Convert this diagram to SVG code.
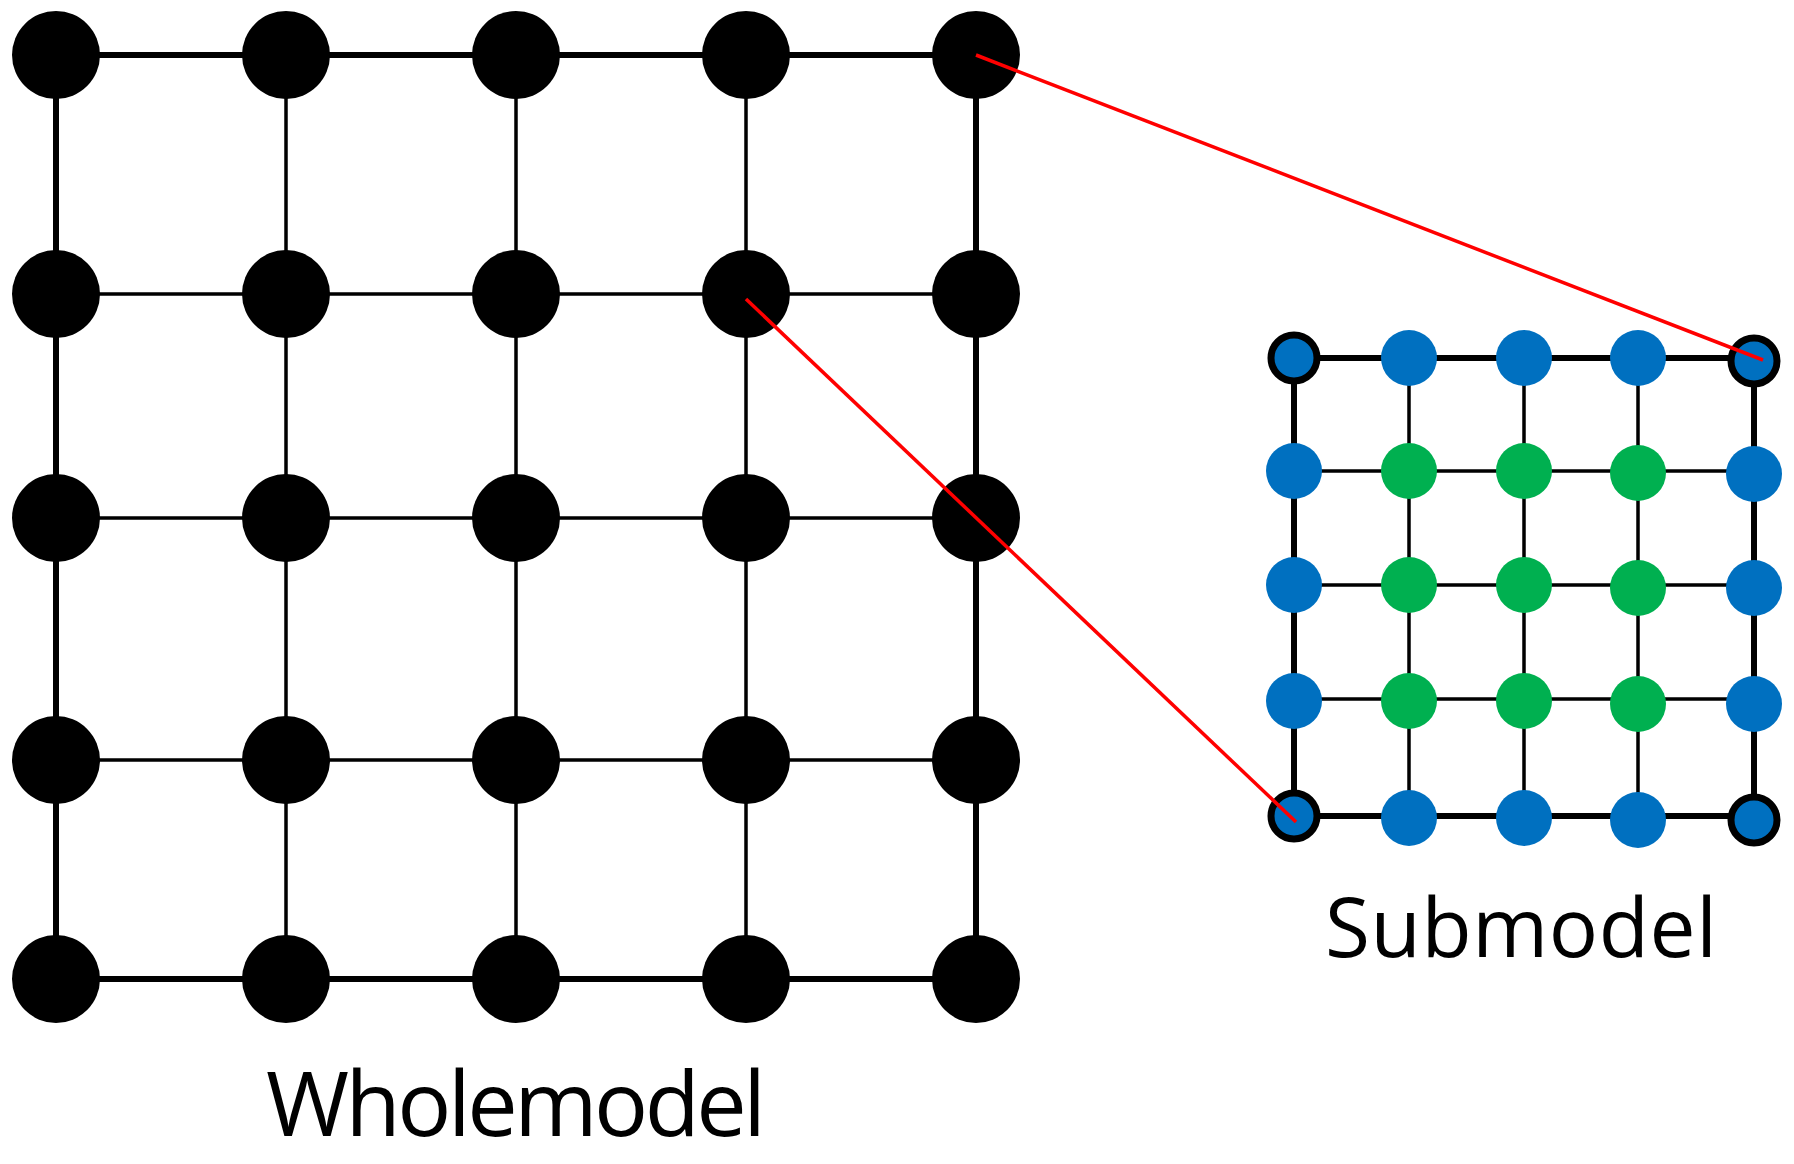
<svg xmlns="http://www.w3.org/2000/svg" width="1794" height="1164" viewBox="0 0 1794 1164">
<style>
.thick{stroke:#000;stroke-width:6;fill:none}
.thin{stroke:#000;stroke-width:3.5;fill:none}
.big{fill:#000}
.blue{fill:#0070C0}
.green{fill:#00B050}
.ring{fill:#0070C0;stroke:#000;stroke-width:7}
.red{stroke:#FF0000;stroke-width:3.5}
.lbl{font-family:"Open Sans","Liberation Sans",sans-serif;fill:#000}
</style>
<rect width="1794" height="1164" fill="#fff"/>
<g id="connectors">
<path class="thin" d="M56 294H976M56 518H976M56 760H976M286 55V979M516 55V979M746 55V979"/>
<path class="thick" d="M56 55H976V979H56Z"/>
<path class="thin" d="M1294 471H1754M1294 585H1754M1294 699H1754M1409 358V816M1524 358V816M1638 358V816"/>
<path class="thick" d="M1294 358H1754V816H1294Z"/>
</g>
<g id="wholemodel-nodes">
<g class="big">
<circle cx="56" cy="55" r="44"/><circle cx="286" cy="55" r="44"/><circle cx="516" cy="55" r="44"/><circle cx="746" cy="55" r="44"/><circle cx="976" cy="55" r="44"/>
<circle cx="56" cy="294" r="44"/><circle cx="286" cy="294" r="44"/><circle cx="516" cy="294" r="44"/><circle cx="746" cy="294" r="44"/><circle cx="976" cy="294" r="44"/>
<circle cx="56" cy="518" r="44"/><circle cx="286" cy="518" r="44"/><circle cx="516" cy="518" r="44"/><circle cx="746" cy="518" r="44"/><circle cx="976" cy="518" r="44"/>
<circle cx="56" cy="760" r="44"/><circle cx="286" cy="760" r="44"/><circle cx="516" cy="760" r="44"/><circle cx="746" cy="760" r="44"/><circle cx="976" cy="760" r="44"/>
<circle cx="56" cy="979" r="44"/><circle cx="286" cy="979" r="44"/><circle cx="516" cy="979" r="44"/><circle cx="746" cy="979" r="44"/><circle cx="976" cy="979" r="44"/>
</g>
</g>
<g id="submodel-nodes">
<circle class="ring" cx="1294" cy="358" r="23"/><circle class="blue" cx="1409" cy="358" r="28"/><circle class="blue" cx="1524" cy="358" r="28"/><circle class="blue" cx="1638" cy="358" r="28"/><circle class="ring" cx="1754" cy="361" r="23"/>
<circle class="blue" cx="1294" cy="471" r="28"/><circle class="green" cx="1409" cy="471" r="28"/><circle class="green" cx="1524" cy="471" r="28"/><circle class="green" cx="1638" cy="473" r="28"/><circle class="blue" cx="1754" cy="474" r="28"/>
<circle class="blue" cx="1294" cy="585" r="28"/><circle class="green" cx="1409" cy="585" r="28"/><circle class="green" cx="1524" cy="585" r="28"/><circle class="green" cx="1638" cy="588" r="28"/><circle class="blue" cx="1754" cy="588" r="28"/>
<circle class="blue" cx="1294" cy="701" r="28"/><circle class="green" cx="1409" cy="701" r="28"/><circle class="green" cx="1524" cy="701" r="28"/><circle class="green" cx="1638" cy="704" r="28"/><circle class="blue" cx="1754" cy="704" r="28"/>
<circle class="ring" cx="1294" cy="816" r="23"/><circle class="blue" cx="1409" cy="818" r="28"/><circle class="blue" cx="1524" cy="818" r="28"/><circle class="blue" cx="1638" cy="820" r="28"/><circle class="ring" cx="1754" cy="820" r="23"/>
</g>
<g id="mapping">
<line class="red" x1="976" y1="55" x2="1763" y2="360"/>
<line class="red" x1="746" y1="299" x2="1296" y2="822"/>
</g>
<text class="lbl" x="516" y="1136" font-size="90" text-anchor="middle" textLength="500">Wholemodel</text>
<text class="lbl" x="1521" y="957" font-size="82" text-anchor="middle" textLength="392">Submodel</text>
</svg>
